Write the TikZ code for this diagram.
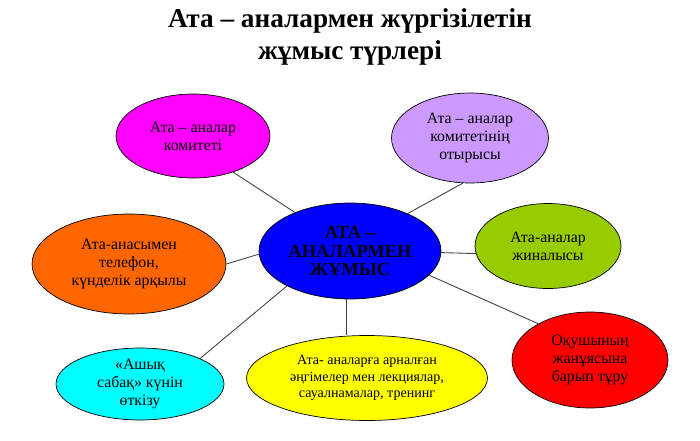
\documentclass[tikz,border=0pt]{standalone}
\usepackage{fontspec}
\setmainfont{Liberation Serif}
\usetikzlibrary{shapes.geometric}

\definecolor{pinkviolet}{RGB}{255,0,255}
\definecolor{lilac}{HTML}{CC99FF}
\definecolor{deepblue}{RGB}{0,0,255}
\definecolor{brightorange}{HTML}{FF6600}
\definecolor{olivegreen}{HTML}{99CC00}
\definecolor{aqua}{RGB}{0,255,255}
\definecolor{lemon}{RGB}{255,255,0}
\definecolor{signalred}{RGB}{255,0,0}

\begin{document}
\begin{tikzpicture}[
    x=0.02cm, y=-0.02cm,
    link/.style={draw=black!75, line width=0.5pt},
    form/.style={
      ellipse,
      draw=black,
      line width=0.4pt,
      inner sep=0pt,
      align=center,
      font=\fontsize{9}{10.2}\selectfont
    }
  ]

  \path[use as bounding box] (0,0) rectangle (700,440);

  % =====================================================
  % TITLE
  % =====================================================
  \node[font=\fontsize{15.5}{18}\selectfont\bfseries, align=center]
  (title) at (350,37) {Ата – аналармен жүргізілетін\\жұмыс түрлері};

  % =====================================================
  % CENTRE
  % =====================================================
  \node[form, fill=deepblue, minimum width=3.64cm, minimum height=1.92cm,
    font=\fontsize{10.5}{10.8}\selectfont\bfseries]
  (centre) at (350,251) {АТА –\\АНАЛАРМЕН\\ЖҰМЫС};

  % =====================================================
  % FORMS OF WORK
  % =====================================================
  \node[form, fill=pinkviolet, minimum width=3.08cm, minimum height=1.68cm]
  (committee) at (193,136) {Ата – аналар\\комитеті};

  \node[form, fill=lilac, minimum width=3.14cm, minimum height=1.80cm]
  (meeting) at (470,138) {Ата – аналар\\комитетінің\\отырысы};

  \node[form, fill=brightorange, minimum width=3.88cm, minimum height=2.0cm]
  (phone) at (129,264) {Ата-анасымен\\телефон,\\күнделік арқылы};

  \node[form, fill=olivegreen, minimum width=2.92cm, minimum height=1.70cm]
  (assembly) at (548,246) {Ата-аналар\\жиналысы};

  \node[form, fill=aqua, minimum width=3.36cm, minimum height=1.44cm]
  (openday) at (140,384) {«Ашық\\сабақ» күнін\\өткізу};

  \node[form, fill=lemon, minimum width=4.82cm, minimum height=1.70cm,
    font=\fontsize{8}{9.2}\selectfont]
  (talks) at (367,378) {Ата- аналарға арналған\\әңгімелер мен лекциялар,\\сауалнамалар, тренинг};

  \node[form, fill=signalred, minimum width=3.12cm, minimum height=1.92cm]
  (visit) at (590,360) {Оқушының\\жанұясына\\барып тұру};

  % =====================================================
  % LINKS
  % =====================================================
  \draw[link] (centre.145) -- (committee.318);
  \draw[link] (centre.33) -- (meeting.261);
  \draw[link] (centre.-1) -- (assembly.186);
  \draw[link] (centre.182) -- (phone.east);
  \draw[link] (centre.-17) -- (visit.145);
  \draw[link] (centre.209) -- (openday.23);
  \draw[link] (centre.266) -- (centre.266 |- talks.north);

\end{tikzpicture}
\end{document}
